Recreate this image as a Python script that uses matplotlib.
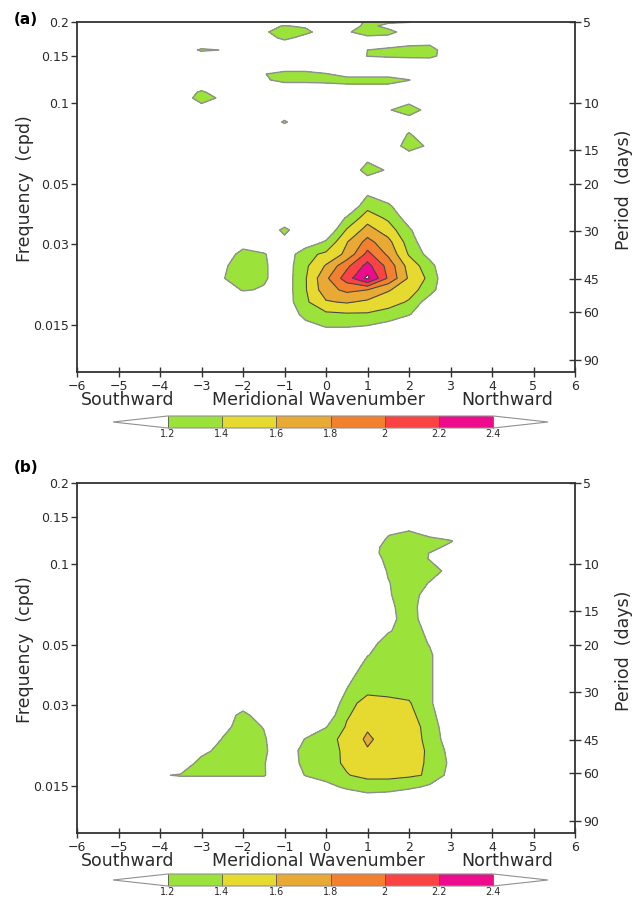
import matplotlib
matplotlib.use("Agg")
import matplotlib.pyplot as plt
from matplotlib.colors import ListedColormap, BoundaryNorm
from matplotlib.cm import ScalarMappable
import numpy as np

# ---------------- data (estimated from the figure) ----------------
wavenumber = [-4.5, -4, -3.5, -3, -2.5, -2, -1.5, -1, -0.5, 0, 0.5, 1, 1.5, 2, 2.5, 3, 3.5]
# frequency rows, top (0.2 cpd) to bottom
freq = [0.2000, 0.1933, 0.1836, 0.1744, 0.1657, 0.1574, 0.1495, 0.1420, 0.1349,
        0.1281, 0.1217, 0.1156, 0.1098, 0.1044, 0.0942, 0.0850, 0.0767, 0.0692,
        0.0624, 0.0563, 0.0508, 0.0459, 0.0414, 0.0374, 0.0337, 0.0304, 0.0274,
        0.0248, 0.0223, 0.0202, 0.0182, 0.0164, 0.0148, 0.0134]

power_a = [
    [1.0, 1.0, 1.0, 1.0, 1.0, 1.0, 0.9, 0.9, 0.9, 1.0, 1.0, 1.25, 1.25, 1.22, 1.0, 1.0, 1.0],
    [1.0, 1.0, 1.0, 1.0, 1.0, 1.0, 1.1, 1.22, 1.15, 1.0, 1.0, 1.3, 1.1, 1.0, 1.0, 1.0, 1.0],
    [1.0, 1.0, 1.0, 1.0, 1.0, 1.0, 1.15, 1.35, 1.3, 1.0, 1.15, 1.38, 1.3, 1.05, 1.0, 1.0, 1.0],
    [1.0, 1.0, 1.0, 1.0, 1.0, 1.0, 1.0, 1.3, 1.05, 1.0, 1.0, 1.1, 1.1, 1.0, 1.0, 1.0, 1.0],
    [1.0, 1.0, 1.0, 1.0, 1.0, 1.0, 1.0, 1.0, 1.0, 1.0, 1.0, 1.0, 1.0, 1.12, 1.15, 1.0, 1.0],
    [1.0, 1.0, 1.0, 1.25, 1.19, 1.0, 1.0, 1.0, 1.0, 1.0, 1.0, 1.2, 1.3, 1.37, 1.38, 0.9, 1.0],
    [1.0, 1.0, 1.0, 1.0, 1.0, 1.0, 1.0, 1.0, 1.0, 1.0, 1.0, 1.21, 1.25, 1.28, 1.3, 1.0, 1.0],
    [1.0, 1.0, 1.0, 1.0, 1.0, 1.0, 1.0, 1.0, 1.0, 1.0, 1.0, 1.0, 1.0, 1.0, 1.0, 1.0, 1.0],
    [1.0, 1.0, 1.0, 1.0, 1.0, 1.0, 1.0, 1.0, 1.0, 1.0, 1.0, 1.0, 1.0, 1.0, 1.0, 1.0, 1.0],
    [1.0, 1.0, 1.0, 1.0, 1.0, 1.0, 1.18, 1.35, 1.35, 1.22, 1.1, 1.1, 1.1, 1.0, 1.0, 1.0, 1.0],
    [1.0, 1.0, 1.0, 1.0, 1.0, 1.0, 1.15, 1.3, 1.3, 1.3, 1.3, 1.3, 1.3, 1.21, 1.0, 1.0, 1.0],
    [1.0, 1.0, 1.0, 1.0, 1.0, 1.0, 1.0, 1.06, 1.06, 1.1, 1.15, 1.15, 1.15, 1.05, 1.0, 1.0, 1.0],
    [1.0, 1.0, 1.0, 1.25, 1.0, 1.0, 1.0, 1.0, 1.0, 1.0, 1.0, 1.0, 1.0, 1.0, 1.0, 1.0, 1.0],
    [1.0, 1.0, 0.96, 1.38, 1.12, 1.0, 1.0, 1.0, 1.0, 1.0, 1.0, 1.0, 1.0, 1.0, 1.0, 1.0, 1.0],
    [1.0, 1.0, 1.0, 1.0, 1.0, 1.0, 1.0, 1.0, 1.0, 1.0, 1.0, 1.0, 1.17, 1.38, 1.06, 1.0, 1.0],
    [1.0, 1.0, 1.0, 1.0, 1.0, 1.0, 1.0, 1.23, 1.0, 1.0, 1.0, 1.0, 1.0, 1.0, 1.0, 1.0, 1.0],
    [1.0, 1.0, 1.0, 1.0, 1.0, 1.0, 1.0, 1.0, 1.0, 1.0, 1.0, 1.0, 1.0, 1.22, 1.0, 1.0, 1.0],
    [1.0, 1.0, 1.0, 1.0, 1.0, 1.0, 1.0, 1.0, 1.0, 1.0, 1.0, 1.0, 0.97, 1.35, 1.14, 1.0, 1.0],
    [1.0, 1.0, 1.0, 1.0, 1.0, 1.0, 1.0, 1.0, 1.0, 1.0, 1.0, 1.1, 1.0, 1.0, 1.0, 1.0, 1.0],
    [1.0, 1.0, 1.0, 1.0, 1.0, 1.0, 1.0, 1.0, 1.0, 1.0, 0.85, 1.38, 1.15, 1.0, 1.0, 1.0, 1.0],
    [1.0, 1.0, 1.0, 1.0, 1.0, 1.0, 1.0, 1.0, 1.0, 1.0, 1.0, 1.0, 1.0, 1.0, 1.0, 1.0, 1.0],
    [1.0, 1.0, 1.0, 1.0, 1.0, 1.0, 1.0, 1.0, 1.0, 1.0, 1.0, 1.18, 1.05, 1.0, 1.0, 1.0, 1.0],
    [1.0, 1.0, 1.0, 1.0, 1.0, 1.0, 1.0, 1.0, 1.0, 1.0, 1.0, 1.33, 1.24, 1.0, 1.0, 1.0, 1.0],
    [1.0, 1.0, 1.0, 1.0, 1.0, 1.0, 1.0, 1.0, 1.0, 1.0, 1.22, 1.51, 1.36, 1.1, 1.0, 1.0, 1.0],
    [1.0, 1.0, 1.0, 1.0, 1.0, 1.0, 1.0, 1.26, 1.0, 1.0, 1.42, 1.68, 1.5, 1.23, 1.0, 1.0, 1.0],
    [1.0, 1.0, 1.0, 1.0, 1.0, 1.0, 1.0, 1.12, 1.05, 1.23, 1.59, 1.87, 1.66, 1.31, 1.03, 1.0, 1.0],
    [1.0, 1.0, 1.0, 1.0, 0.95, 1.34, 1.22, 1.05, 1.34, 1.44, 1.65, 2.06, 1.76, 1.38, 1.12, 1.0, 1.0],
    [1.0, 1.0, 1.0, 1.0, 1.14, 1.36, 1.23, 1.08, 1.36, 1.62, 1.95, 2.27, 1.93, 1.52, 1.28, 0.95, 1.0],
    [1.0, 1.0, 1.0, 1.0, 1.18, 1.35, 1.23, 1.08, 1.38, 1.76, 2.1, 2.45, 1.97, 1.57, 1.35, 0.97, 1.0],
    [1.0, 1.0, 1.0, 1.0, 1.05, 1.22, 1.18, 1.08, 1.38, 1.72, 1.85, 1.8, 1.62, 1.48, 1.3, 0.95, 1.0],
    [1.0, 1.0, 1.0, 1.0, 1.0, 1.0, 1.0, 1.08, 1.36, 1.58, 1.62, 1.56, 1.48, 1.38, 1.08, 1.0, 1.0],
    [1.0, 1.0, 1.0, 1.0, 1.0, 1.0, 1.0, 0.96, 1.3, 1.36, 1.38, 1.38, 1.33, 1.22, 1.0, 1.0, 1.0],
    [1.0, 1.0, 1.0, 1.0, 1.0, 1.0, 1.0, 1.0, 1.1, 1.22, 1.22, 1.19, 1.12, 1.0, 1.0, 1.0, 1.0],
    [1.0, 1.0, 1.0, 1.0, 1.0, 1.0, 1.0, 1.0, 1.0, 1.0, 1.0, 1.0, 1.0, 1.0, 1.0, 1.0, 1.0],
]

power_b = [
    [1.0, 1.0, 1.0, 1.0, 1.0, 1.0, 1.0, 1.0, 1.0, 1.0, 1.0, 1.0, 1.0, 1.0, 1.0, 1.0, 1.0],
    [1.0, 1.0, 1.0, 1.0, 1.0, 1.0, 1.0, 1.0, 1.0, 1.0, 1.0, 1.0, 1.0, 1.0, 1.0, 1.0, 1.0],
    [1.0, 1.0, 1.0, 1.0, 1.0, 1.0, 1.0, 1.0, 1.0, 1.0, 1.0, 1.0, 1.0, 1.0, 1.0, 1.0, 1.0],
    [1.0, 1.0, 1.0, 1.0, 1.0, 1.0, 1.0, 1.0, 1.0, 1.0, 1.0, 1.0, 1.0, 1.0, 1.0, 1.0, 1.0],
    [1.0, 1.0, 1.0, 1.0, 1.0, 1.0, 1.0, 1.0, 1.0, 1.0, 1.0, 1.0, 1.0, 1.0, 1.0, 1.0, 1.0],
    [1.0, 1.0, 1.0, 1.0, 1.0, 1.0, 1.0, 1.0, 1.0, 1.0, 1.0, 1.0, 1.0, 1.0, 1.0, 1.0, 1.0],
    [1.0, 1.0, 1.0, 1.0, 1.0, 1.0, 1.0, 1.0, 1.0, 1.0, 1.0, 1.0, 1.0, 1.0, 1.0, 1.0, 1.0],
    [1.0, 1.0, 1.0, 1.0, 1.0, 1.0, 1.0, 1.0, 1.0, 1.0, 1.0, 1.0, 1.0, 1.0, 1.0, 1.0, 1.0],
    [1.0, 1.0, 1.0, 1.0, 1.0, 1.0, 1.0, 1.0, 1.0, 1.0, 1.0, 1.0, 1.0, 1.15, 1.0, 1.0, 1.0],
    [1.0, 1.0, 1.0, 1.0, 1.0, 1.0, 1.0, 1.0, 1.0, 1.0, 1.0, 1.0, 1.19, 1.3, 1.15, 1.05, 1.0],
    [1.0, 1.0, 1.0, 1.0, 1.0, 1.0, 1.0, 1.0, 1.0, 1.0, 1.0, 1.0, 1.25, 1.3, 1.3, 1.22, 1.0],
    [1.0, 1.0, 1.0, 1.0, 1.0, 1.0, 1.0, 1.0, 1.0, 1.0, 1.0, 1.08, 1.28, 1.3, 1.28, 1.14, 1.0],
    [1.0, 1.0, 1.0, 1.0, 1.0, 1.0, 1.0, 1.0, 1.0, 1.0, 1.0, 1.1, 1.28, 1.3, 1.195, 1.0, 1.0],
    [1.0, 1.0, 1.0, 1.0, 1.0, 1.0, 1.0, 1.0, 1.0, 1.0, 1.0, 1.08, 1.25, 1.3, 1.19, 1.0, 1.0],
    [1.0, 1.0, 1.0, 1.0, 1.0, 1.0, 1.0, 1.0, 1.0, 1.0, 1.0, 1.0, 1.22, 1.3, 1.28, 1.14, 1.0],
    [1.0, 1.0, 1.0, 1.0, 1.0, 1.0, 1.0, 1.0, 1.0, 1.0, 1.0, 1.0, 1.19, 1.3, 1.19, 1.0, 1.0],
    [1.0, 1.0, 1.0, 1.0, 1.0, 1.0, 1.0, 1.0, 1.0, 1.0, 1.0, 1.0, 1.18, 1.3, 1.1, 1.0, 1.0],
    [1.0, 1.0, 1.0, 1.0, 1.0, 1.0, 1.0, 1.0, 1.0, 1.0, 1.0, 1.0, 1.15, 1.3, 1.05, 1.0, 1.0],
    [1.0, 1.0, 1.0, 1.0, 1.0, 1.0, 1.0, 1.0, 1.0, 1.0, 1.0, 1.0, 1.13, 1.3, 1.07, 1.0, 1.0],
    [1.0, 1.0, 1.0, 1.0, 1.0, 1.0, 1.0, 1.0, 1.0, 1.0, 1.0, 1.0, 1.18, 1.3, 1.15, 1.0, 1.0],
    [1.0, 1.0, 1.0, 1.0, 1.0, 1.0, 1.0, 1.0, 1.0, 1.0, 1.0, 1.1, 1.3, 1.28, 1.19, 1.0, 1.0],
    [1.0, 1.0, 1.0, 1.0, 1.0, 1.0, 1.0, 1.0, 1.0, 1.0, 1.0, 1.19, 1.3, 1.3, 1.22, 1.08, 1.0],
    [1.0, 1.0, 1.0, 1.0, 1.0, 1.0, 1.0, 1.0, 1.0, 1.0, 1.05, 1.28, 1.3, 1.3, 1.22, 1.08, 1.0],
    [1.0, 1.0, 1.0, 1.0, 1.0, 1.0, 1.0, 1.0, 1.0, 1.0, 1.15, 1.32, 1.32, 1.3, 1.22, 1.08, 1.0],
    [1.0, 1.0, 1.0, 1.0, 1.0, 1.0, 1.0, 1.0, 1.0, 1.0, 1.21, 1.35, 1.35, 1.33, 1.22, 1.08, 1.0],
    [1.0, 1.0, 1.0, 1.0, 1.0, 1.0, 1.0, 1.0, 1.0, 1.0, 1.3, 1.5, 1.45, 1.42, 1.22, 1.08, 1.0],
    [1.0, 1.0, 1.0, 1.0, 1.0, 1.3, 1.0, 1.0, 1.0, 1.06, 1.38, 1.5, 1.48, 1.45, 1.3, 0.96, 1.0],
    [1.0, 1.0, 1.0, 1.0, 1.12, 1.3, 1.19, 1.0, 1.05, 1.19, 1.42, 1.57, 1.5, 1.45, 1.36, 1.0, 1.0],
    [1.0, 1.0, 1.0, 1.0, 1.21, 1.3, 1.23, 1.0, 1.21, 1.34, 1.45, 1.64, 1.5, 1.45, 1.37, 1.05, 1.0],
    [1.0, 1.0, 1.0, 1.11, 1.3, 1.3, 1.23, 1.07, 1.27, 1.36, 1.42, 1.58, 1.52, 1.46, 1.38, 1.13, 1.0],
    [1.0, 1.0, 1.0, 1.3, 1.3, 1.3, 1.21, 1.08, 1.25, 1.33, 1.43, 1.5, 1.48, 1.45, 1.38, 1.16, 1.0],
    [1.0, 1.18, 1.22, 1.22, 1.22, 1.22, 1.22, 1.0, 1.21, 1.32, 1.39, 1.45, 1.45, 1.43, 1.38, 1.12, 1.0],
    [1.0, 1.0, 1.0, 1.0, 1.0, 1.0, 1.0, 1.0, 1.0, 1.1, 1.25, 1.3, 1.3, 1.25, 1.15, 1.0, 1.0],
    [1.0, 1.0, 1.0, 1.0, 1.0, 1.0, 1.0, 1.0, 1.0, 1.0, 0.95, 1.1, 1.06, 0.95, 1.0, 1.0, 1.0],
]

levels = [1.2, 1.4, 1.6, 1.8, 2.0, 2.2, 2.4]
level_labels = ["1.2", "1.4", "1.6", "1.8", "2", "2.2", "2.4"]
colors = ["#9be33b", "#e6d930", "#e8aa35", "#f2802e", "#fa4343", "#ec0c8c"]

freq_ticks = [0.2, 0.15, 0.1, 0.05, 0.03, 0.015]
freq_labels = ["0.2", "0.15", "0.1", "0.05", "0.03", "0.015"]
period_ticks = [5, 10, 15, 20, 30, 45, 60, 90]

W, H = 644, 899
fig = plt.figure(figsize=(W / 100, H / 100), dpi=100)

cmap = ListedColormap(colors)
cmap.set_under("white")
cmap.set_over("white")
norm = BoundaryNorm(levels, cmap.N)

axis_col = "#333333"
text_col = "#2a2a2a"


def fx(px):
    return px / W


def fy(py):
    return 1 - py / H


def draw_panel(top, z, cbar_top):
    ax = fig.add_axes([fx(77), fy(top + 350), fx(498), 350 / H])
    X, Y = np.meshgrid(wavenumber, freq)
    Z = np.array(z)
    ax.contourf(X, Y, Z, levels=levels, colors=colors)
    ax.contour(X, Y, Z, levels=[1.2], colors="#8f8f8f", linewidths=1.0)
    ax.contour(X, Y, Z, levels=levels[1:], colors="#474a3c", linewidths=0.8)

    ax.set_xlim(-6, 6)
    ax.set_yscale("log")
    ax.set_ylim(0.01, 0.2)
    ax.set_xticks(range(-6, 7))
    ax.set_yticks(freq_ticks)
    ax.set_yticklabels(freq_labels)
    ax.minorticks_off()
    ax.tick_params(axis="y", direction="out", length=4, width=1, labelsize=9,
                   pad=1.5, colors=axis_col, labelcolor=text_col)
    ax.tick_params(axis="x", direction="inout", length=7, width=1, labelsize=9,
                   pad=2, colors=axis_col, labelcolor=text_col)
    for s in ax.spines.values():
        s.set_linewidth(1.3)
        s.set_color(axis_col)

    # period axis on the right
    ax2 = ax.twinx()
    ax2.set_yscale("log")
    ax2.set_ylim(0.01, 0.2)
    ax2.set_yticks([1.0 / p for p in period_ticks])
    ax2.set_yticklabels([str(p) for p in period_ticks])
    ax2.minorticks_off()
    ax2.tick_params(axis="y", direction="inout", length=8, width=1, labelsize=9,
                    pad=2, colors=axis_col, labelcolor=text_col)
    for s in ax2.spines.values():
        s.set_visible(False)

    # labels
    fig.text(fx(25), fy(top + 167), "Frequency  (cpd)", rotation=90, fontsize=12.5,
             ha="center", va="center", color=text_col)
    fig.text(fx(624), fy(top + 168), "Period  (days)", rotation=90, fontsize=12.5,
             ha="center", va="center", color=text_col)
    yb = top + 378
    fig.text(fx(128), fy(yb), "Southward", fontsize=12.5, ha="center", va="center", color=text_col)
    fig.text(fx(318), fy(yb), "Meridional Wavenumber", fontsize=12.5, ha="center", va="center",
             color=text_col)
    fig.text(fx(507), fy(yb), "Northward", fontsize=12.5, ha="center", va="center", color=text_col)

    # colour bar
    cax = fig.add_axes([fx(113), fy(cbar_top + 12), fx(435), 12 / H])
    cb = fig.colorbar(ScalarMappable(norm=norm, cmap=cmap), cax=cax, orientation="horizontal",
                      extend="both", extendfrac=0.168, drawedges=True, ticks=levels)
    cb.set_ticklabels(level_labels)
    cb.outline.set_edgecolor("#909090")
    cb.outline.set_linewidth(0.8)
    cb.dividers.set_color("#555555")
    cb.dividers.set_linewidth(0.6)
    cb.ax.tick_params(length=0, labelsize=7, pad=0.8, labelcolor=text_col)
    return ax


draw_panel(22, power_a, 416)
draw_panel(483, power_b, 874)

fig.text(fx(14), fy(20), "(a)", fontsize=11, fontweight="bold", ha="left", va="center")
fig.text(fx(14), fy(468), "(b)", fontsize=11, fontweight="bold", ha="left", va="center")

fig.savefig("out.png", dpi=100)
